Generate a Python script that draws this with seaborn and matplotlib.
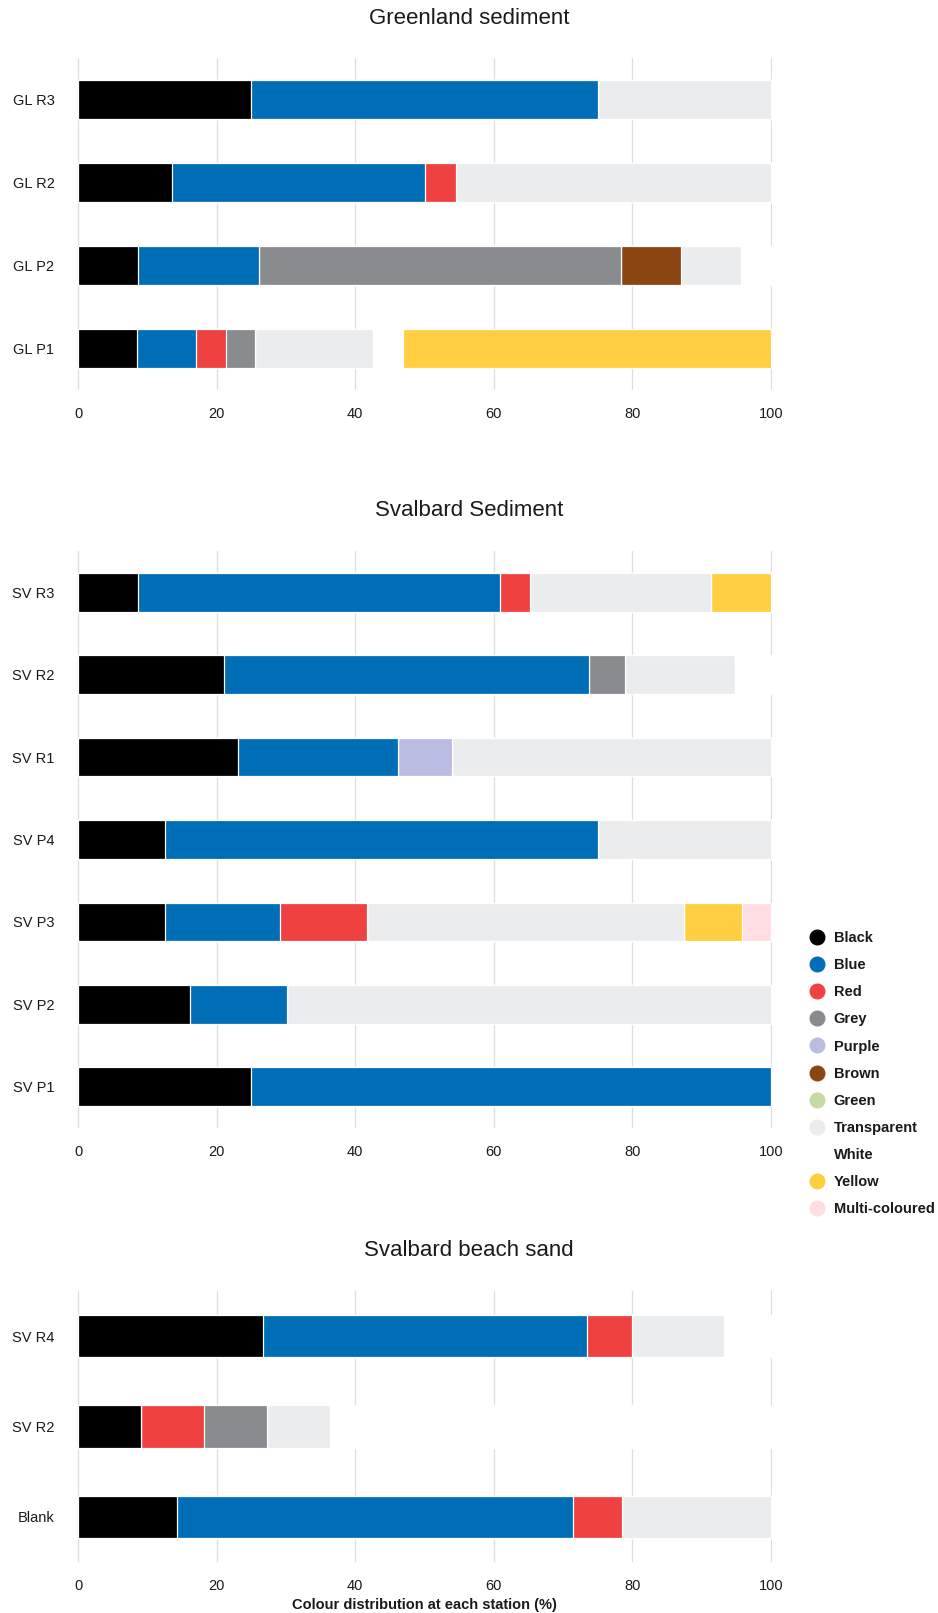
import numpy as np
import pandas as pd
import matplotlib
matplotlib.use("Agg")
import matplotlib.pyplot as plt
from matplotlib.lines import Line2D
import seaborn as sns

# Colour classes, in stacking order
COLOURS = ["Black", "Blue", "Red", "Grey", "Purple", "Brown", "Green",
           "Transparent", "White", "Yellow", "Multi-coloured"]
PALETTE = ["#000000", "#006EB6", "#EF4140", "#8A8B8F", "#BBBCE2", "#8B4513",
           "#C6DAA4", "#EBECEE", "#FFFFFF", "#FFCF41", "#FFDDE3"]

# Percentage of particles per colour class (same order as COLOURS)
#                  Blk   Blue  Red   Grey  Purp  Brwn  Grn  Trans White Yell  Multi
GREENLAND = {
    "GL R3": [25.0, 50.0, 0.0,  0.0,  0.0,  0.0,  0.0, 25.0,  0.0,  0.0,  0.0],
    "GL R2": [13.6, 36.4, 4.5,  0.0,  0.0,  0.0,  0.0, 45.5,  0.0,  0.0,  0.0],
    "GL P2": [8.7,  17.4, 0.0,  52.2, 0.0,  8.7,  0.0, 8.7,   4.3,  0.0,  0.0],
    "GL P1": [8.5,  8.5,  4.3,  4.3,  0.0,  0.0,  0.0, 17.0,  4.3,  53.1, 0.0],
}
SVALBARD_SEDIMENT = {
    "SV R3": [8.7,  52.2, 4.3,  0.0,  0.0,  0.0,  0.0, 26.1,  0.0,  8.7,  0.0],
    "SV R2": [21.1, 52.6, 0.0,  5.3,  0.0,  0.0,  0.0, 15.8,  5.2,  0.0,  0.0],
    "SV R1": [23.1, 23.1, 0.0,  0.0,  7.7,  0.0,  0.0, 46.1,  0.0,  0.0,  0.0],
    "SV P4": [12.5, 62.5, 0.0,  0.0,  0.0,  0.0,  0.0, 25.0,  0.0,  0.0,  0.0],
    "SV P3": [12.5, 16.7, 12.5, 0.0,  0.0,  0.0,  0.0, 45.8,  0.0,  8.3,  4.2],
    "SV P2": [16.1, 14.1, 0.0,  0.0,  0.0,  0.0,  0.0, 69.8,  0.0,  0.0,  0.0],
    "SV P1": [25.0, 75.0, 0.0,  0.0,  0.0,  0.0,  0.0, 0.0,   0.0,  0.0,  0.0],
}
SVALBARD_BEACH = {
    "SV R4": [26.7, 46.7, 6.6,  0.0,  0.0,  0.0,  0.0, 13.3,  6.7,  0.0,  0.0],
    "SV R2": [9.1,  0.0,  9.1,  9.1,  0.0,  0.0,  0.0, 9.1,   63.6, 0.0,  0.0],
    "Blank": [14.3, 57.1, 7.1,  0.0,  0.0,  0.0,  0.0, 21.5,  0.0,  0.0,  0.0],
}

PANEL_TITLES = ["Greenland sediment", "Svalbard Sediment", "Svalbard beach sand"]
PANEL_DATA = [GREENLAND, SVALBARD_SEDIMENT, SVALBARD_BEACH]
X_TICKS = [0, 20, 40, 60, 80, 100]
X_LABEL = "Colour distribution at each station (%)"

sns.set_theme(style="white")
plt.rcParams["font.family"] = ["Liberation Sans", "DejaVu Sans"]

W, H = 938, 1613
fig = plt.figure(figsize=(W / 100, H / 100), dpi=100)

# Axes boxes in pixels: (top, bottom)
LEFT_PX, RIGHT_PX = 76.7, 772.3
PANEL_PX = [(57.7, 390.0), (551.0, 1128.0), (1291.0, 1562.0)]
TITLE_Y_PX = [18.5, 511.0, 1251.0]


def stacked_panel(ax, data):
    stations = list(data.keys())
    values = np.array([data[s] for s in stations])
    cum = np.cumsum(values, axis=1)
    # Draw cumulative totals from the widest down, so each colour shows as a segment
    for k in range(len(COLOURS) - 1, -1, -1):
        df = pd.DataFrame({"station": stations, "cum": cum[:, k]})
        sns.barplot(data=df, x="cum", y="station", orient="h", color=PALETTE[k],
                    saturation=1, width=0.47, edgecolor="white", linewidth=0.9,
                    ax=ax)
    ax.set_xlim(-0.2, 100.2)
    ax.set_xticks(X_TICKS)
    ax.set_xticklabels([str(t) for t in X_TICKS])
    ax.set_xlabel("")
    ax.set_ylabel("")
    ax.xaxis.grid(True, color="#DEDEDE", linewidth=0.9)
    ax.yaxis.grid(False)
    ax.set_axisbelow(True)
    for sp in ax.spines.values():
        sp.set_visible(False)
    ax.tick_params(axis="x", length=0, pad=12, labelsize=10.5, labelcolor="#1a1a1a")
    ax.tick_params(axis="y", length=0, pad=16, labelsize=10.5, labelcolor="#1a1a1a")


axes = []
for (top, bot), data in zip(PANEL_PX, PANEL_DATA):
    ax = fig.add_axes([LEFT_PX / W, 1 - bot / H, (RIGHT_PX - LEFT_PX) / W, (bot - top) / H])
    stacked_panel(ax, data)
    axes.append(ax)

axes[-1].set_xlabel(X_LABEL, fontsize=10.5, fontweight="bold", labelpad=4, color="#1a1a1a")

for title, ty in zip(PANEL_TITLES, TITLE_Y_PX):
    fig.text(0.5, 1 - ty / H, title, ha="center", va="center", fontsize=16, color="#1a1a1a")

handles = [Line2D([], [], marker="o", linestyle="", markersize=10.5,
                  markerfacecolor=c, markeredgecolor=c, label=n)
           for n, c in zip(COLOURS, PALETTE)]
leg = fig.legend(handles=handles, loc="upper left",
                 bbox_to_anchor=(810.0 / W, 1 - 931.0 / H),
                 frameon=False, borderpad=0, borderaxespad=0,
                 handlelength=1.0, handletextpad=0.62, labelspacing=0.9,
                 prop={"size": 10.5, "weight": "bold"})
for t in leg.get_texts():
    t.set_color("#1a1a1a")

fig.savefig("out.png", dpi=100)
